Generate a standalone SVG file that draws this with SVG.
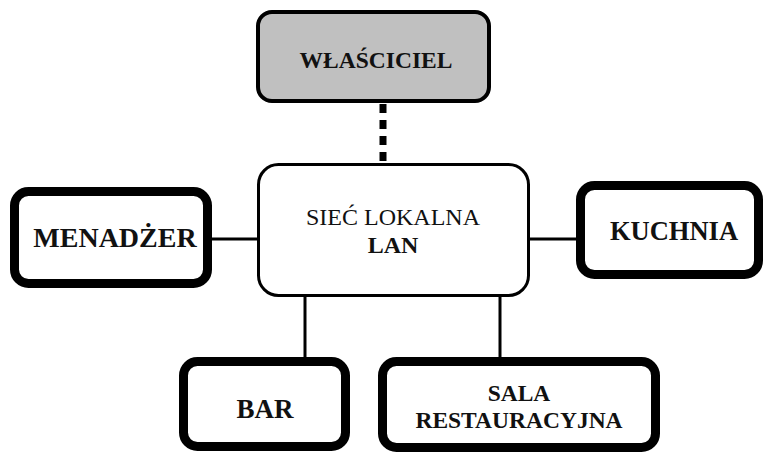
<svg xmlns="http://www.w3.org/2000/svg" width="764" height="453" viewBox="0 0 764 453">
<style>
.box{fill:#fff;stroke:#000;stroke-width:9}
.t{font-family:"Liberation Serif","Times New Roman",serif;font-size:24px;text-anchor:middle;fill:#111}
.b{font-weight:bold}
.ln{stroke:#000;stroke-width:3;fill:none}
</style>
<rect width="764" height="453" fill="#fff"/>
<g id="connectors">
<line class="ln" x1="212" y1="239" x2="258" y2="239"/>
<line class="ln" x1="529" y1="239" x2="577" y2="239"/>
<line class="ln" x1="305" y1="296" x2="305" y2="358"/>
<line class="ln" x1="500" y1="296" x2="500" y2="358"/>
<line x1="383" y1="104" x2="383" y2="163" stroke="#000" stroke-width="7" stroke-dasharray="9 7"/>
</g>
<g id="wlasciciel">
<rect x="258" y="12" width="231" height="89" rx="14" fill="#c0c0c0" stroke="#000" stroke-width="4"/>
<text class="t b" x="376" y="68" style="font-size:23.5px">WŁAŚCICIEL</text>
</g>
<g id="lan">
<rect x="258.5" y="164.5" width="270" height="131" rx="20" fill="#fff" stroke="#000" stroke-width="3"/>
<text class="t" x="393" y="225">SIEĆ LOKALNA</text>
<text class="t b" x="393" y="253">LAN</text>
</g>
<g id="menadzer">
<rect class="box" x="14.5" y="191.5" width="193" height="92" rx="14"/>
<text class="t b" x="115" y="247" style="font-size:28px">MENADŻER</text>
</g>
<g id="kuchnia">
<rect class="box" x="580.5" y="185.5" width="178" height="89" rx="14"/>
<text class="t b" x="674" y="240" style="font-size:26.5px">KUCHNIA</text>
</g>
<g id="bar">
<rect class="box" x="183.5" y="361.5" width="162" height="85" rx="14"/>
<text class="t b" x="265" y="418" style="font-size:27px">BAR</text>
</g>
<g id="sala">
<rect class="box" x="382.5" y="361.5" width="273" height="86" rx="14"/>
<text class="t b" x="519" y="401" style="font-size:23.5px">SALA</text>
<text class="t b" x="519" y="428" style="font-size:23.5px">RESTAURACYJNA</text>
</g>
</svg>
